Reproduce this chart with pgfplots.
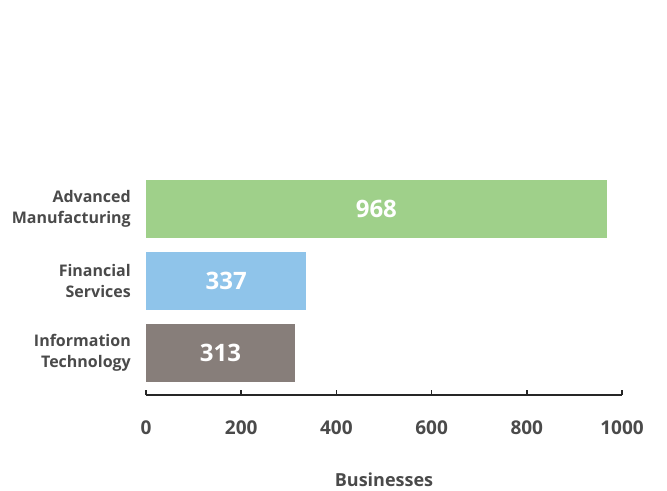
\documentclass[border=0pt]{standalone}
\usepackage{pgfplots}
\pgfplotsset{compat=1.18}
\usepackage{pgfplotstable}
\usepackage{fontspec}
\setmainfont{Open Sans}
\definecolor{txt}{HTML}{4A4A4A}
\definecolor{cgreen}{HTML}{9FD08A}
\definecolor{cblue}{HTML}{8FC4EA}
\definecolor{cgray}{HTML}{877E7A}
\pgfplotstableread{
y v
2 968
1 337
0 313
}\datatable
\begin{document}
\begin{tikzpicture}
\useasboundingbox (0,0) rectangle (667bp,491bp);
\begin{axis}[
  at={(146bp,96bp)}, anchor=south west,
  scale only axis, width=476bp, height=229.8bp,
  xmin=0, xmax=1000, ymin=-0.58, ymax=2.6,
  axis x line*=bottom, axis y line*=left,
  x axis line style={line width=1.6pt, draw=black!85, -},
  y axis line style={draw=none},
  xtick={0,200,...,1000},
  xtick style={line width=1.6pt, draw=black!85},
  tick align=inside, major tick length=5bp,
  ytick={0,1,2},
  yticklabels={{Information\\Technology},{Financial\\Services},{Advanced\\Manufacturing}},
  ytick style={draw=none},
  yticklabel style={align=right, inner sep=0pt, xshift=-10bp, font=\fontsize{16bp}{21bp}\selectfont\bfseries, text=txt},
  xticklabel style={anchor=center, inner sep=0pt, yshift=-33bp, font=\fontsize{19bp}{22bp}\selectfont\bfseries, text=txt},
  /pgf/number format/assume math mode=true,
  /pgf/number format/1000 sep={},
  xlabel={Businesses},
  xlabel style={at={(axis description cs:0.5,0)}, anchor=center, inner sep=0pt, yshift=-85bp, font=\fontsize{18bp}{22bp}\selectfont\bfseries, text=txt},
  xbar, bar width=58bp, bar shift=0pt,
  clip=false,
]
\addplot[draw=none, fill=cgreen] coordinates {(968,2)};
\addplot[draw=none, fill=cblue] coordinates {(337,1)};
\addplot[draw=none, fill=cgray] coordinates {(313,0)};
\addplot[draw=none, mark=none, xbar=false, only marks,
  nodes near coords, point meta=explicit,
  every node near coord/.style={anchor=center, text=white, font=\fontsize{24bp}{28bp}\selectfont\bfseries}]
  table[x expr=\thisrow{v}/2, y=y, meta=v] {\datatable};
\end{axis}
\end{tikzpicture}
\end{document}
